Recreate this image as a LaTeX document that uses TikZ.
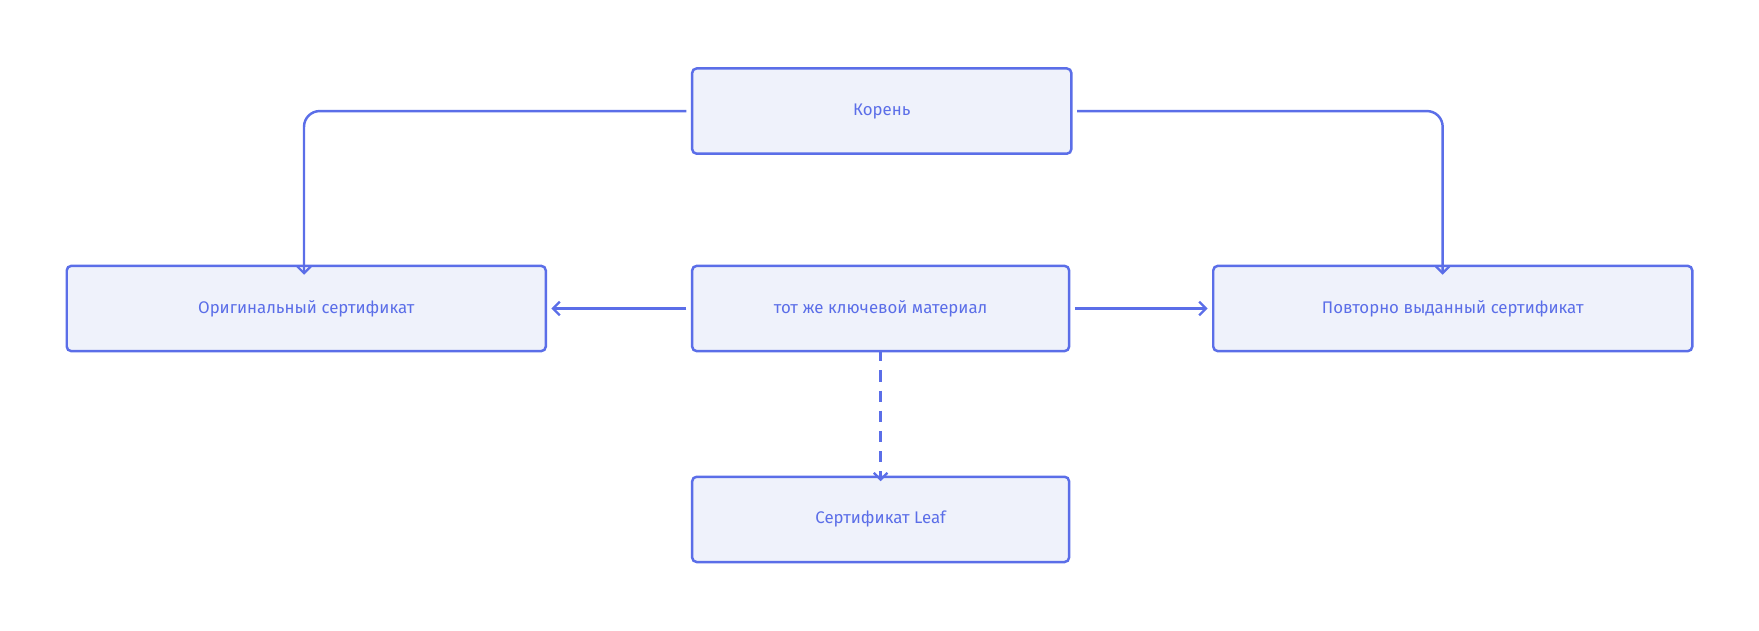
\documentclass[tikz,border=0pt]{standalone}
\usepackage{fontspec}
\setmainfont{Fira Sans}
\usetikzlibrary{arrows.meta}
\definecolor{ln}{HTML}{5B6EE8}
\definecolor{bg}{HTML}{EFF2FB}
\begin{document}
\begin{tikzpicture}[x=1pt,y=-1pt,
 box/.style={draw=ln,fill=bg,line width=2.2pt,rounded corners=4pt,minimum height=76pt,inner sep=0pt,text=ln,font=\fontsize{15}{18}\selectfont},
 ar/.style={draw=ln,line width=2.2pt,-{Straight Barb[length=6pt,width=12pt,line width=2pt]},rounded corners=14pt}]
\useasboundingbox (0,0) rectangle (1568,562);
\node[box,minimum width=338pt] (root) at (786,99) {Корень};
\node[box,minimum width=427pt] (orig) at (273,275) {Оригинальный сертификат};
\node[box,minimum width=336pt] (key) at (785,275) {тот же ключевой материал};
\node[box,minimum width=427pt] (re) at (1295,275) {Повторно выданный сертификат};
\node[box,minimum width=336pt] (leaf) at (785,463) {Сертификат Leaf};
\draw[ar] ([xshift=-4pt]root.west) -| ([yshift=-9pt]orig.north -| 271,0);
\draw[ar] ([xshift=4pt]root.east) -| ([yshift=-9pt]re.north -| 1286,0);
\draw[ar] ([xshift=-4pt]key.west) -- ([xshift=4pt]orig.east);
\draw[ar] ([xshift=4pt]key.east) -- ([xshift=-4pt]re.west);
\draw[ar,dash pattern=on 10pt off 8pt] ([yshift=2pt]key.south) -- ([yshift=-5pt]leaf.north);
\end{tikzpicture}
\end{document}
